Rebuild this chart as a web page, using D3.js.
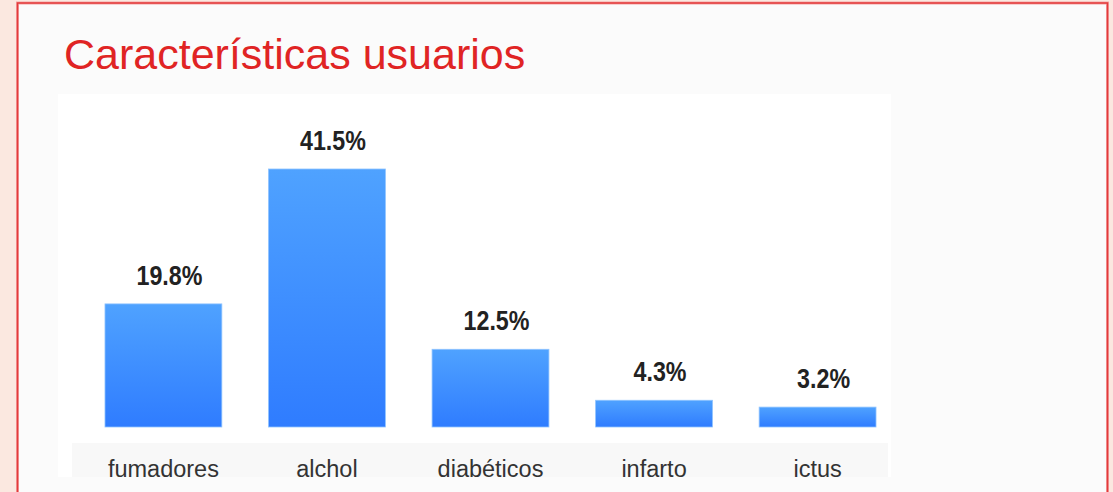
<!DOCTYPE html>
<html>
<head>
<meta charset="utf-8">
<script src="https://cdn.jsdelivr.net/npm/d3@7"></script>
<style>
  html, body { margin: 0; padding: 0; background: #fbe8e0; }
  svg { display: block; }
</style>
</head>
<body>
<div id="chart"></div>
<script>
// datos
var categorias = ["fumadores", "alchol", "diabéticos", "infarto", "ictus"];
var valores = [19.8, 41.5, 12.5, 4.3, 3.2];
var etiquetas = ["19.8%", "41.5%", "12.5%", "4.3%", "3.2%"];
var titulo = "Características usuarios";

var svgWidth = 1113, svgHeight = 492;

var svg = d3.select("#chart").append("svg")
    .attr("width", svgWidth)
    .attr("height", svgHeight);

// gradiente de las barras
var grad = svg.append("defs").append("linearGradient")
    .attr("id", "barGrad")
    .attr("x1", 0).attr("y1", 0).attr("x2", 0).attr("y2", 1);
grad.append("stop").attr("offset", "0%").attr("stop-color", "#4fa2ff");
grad.append("stop").attr("offset", "100%").attr("stop-color", "#2f7cff");

// tarjeta
svg.append("rect")
    .attr("x", 17.5).attr("y", 3)
    .attr("width", 1090).attr("height", 500)
    .attr("fill", "#fbfbfb")
    .attr("stroke", "#f4a3a3")
    .attr("stroke-width", 3);
svg.append("rect")
    .attr("x", 17.5).attr("y", 3)
    .attr("width", 1090).attr("height", 500)
    .attr("fill", "none")
    .attr("stroke", "#e23b3b")
    .attr("stroke-width", 1.5);

svg.append("text")
    .attr("x", 64).attr("y", 69)
    .attr("fill", "#e02424")
    .style("font-family", "'Liberation Sans', Arial, sans-serif")
    .style("font-size", "43px")
    .text(titulo);

// panel del grafico
svg.append("rect")
    .attr("x", 58).attr("y", 94)
    .attr("width", 833).attr("height", 383)
    .attr("fill", "#ffffff");
svg.append("rect")
    .attr("x", 72).attr("y", 443)
    .attr("width", 816).attr("height", 34)
    .attr("fill", "#f8f8f8");

var margin = { top: 94, bottom: 427 };

var x = d3.scaleBand()
    .domain(categorias)
    .range([81.6, 899.4])
    .paddingInner(0.2855)
    .paddingOuter(0.143);

var y = d3.scaleLinear()
    .domain([0, 41.5])
    .range([margin.bottom, 169]);

var g = svg.append("g");

g.selectAll("rect.bar")
    .data(valores)
    .enter()
    .append("rect")
    .attr("class", "bar")
    .attr("x", (d, i) => x(categorias[i]))
    .attr("y", d => y(d))
    .attr("width", x.bandwidth())
    .attr("height", d => y(0) - y(d))
    .attr("fill", "url(#barGrad)")
    .attr("stroke", "#8ec3ff")
    .attr("stroke-width", 0.8);

// etiquetas de valor (letra estrecha -> escalado horizontal)
g.selectAll("text.valor")
    .data(valores)
    .enter()
    .append("text")
    .attr("class", "valor")
    .attr("transform", (d, i) =>
        "translate(" + (x(categorias[i]) + x.bandwidth() / 2 + 6) + "," + (y(d) - 19) + ") scale(0.83,1)")
    .attr("text-anchor", "middle")
    .attr("fill", "#222")
    .style("font-family", "'Liberation Sans', Arial, sans-serif")
    .style("font-weight", "bold")
    .style("font-size", "28px")
    .text((d, i) => etiquetas[i]);

// eje x
var xAxis = svg.append("g")
    .attr("transform", "translate(0," + 477 + ")")
    .call(d3.axisBottom(x).tickSize(0).tickPadding(0));
xAxis.select(".domain").remove();
xAxis.selectAll("text")
    .attr("dy", 0)
    .attr("fill", "#333")
    .style("font-family", "'Liberation Sans', Arial, sans-serif")
    .style("font-size", "23.5px");
</script>
</body>
</html>
